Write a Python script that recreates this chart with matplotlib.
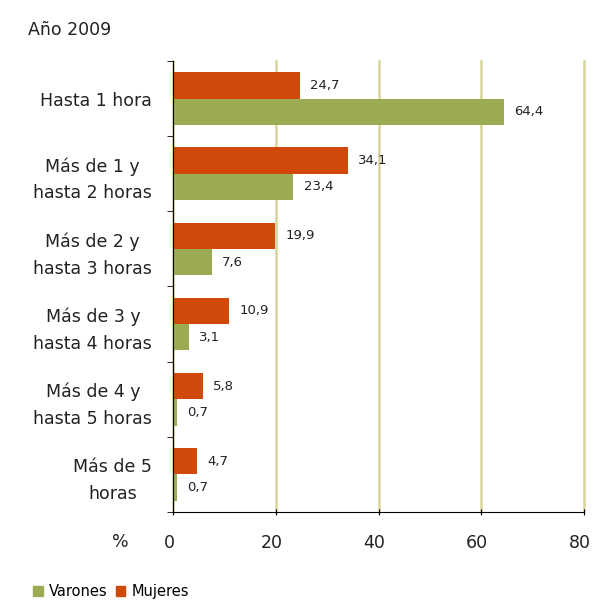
import matplotlib
matplotlib.use("Agg")
import matplotlib.pyplot as plt
import matplotlib.transforms as mtransforms
import numpy as np
from matplotlib.patches import Patch

plt.rcParams['font.family'] = ['DejaVu Sans']

categorias = ['Hasta 1 hora', 'Más de 1 y\nhasta 2 horas', 'Más de 2 y\nhasta 3 horas',
              'Más de 3 y\nhasta 4 horas', 'Más de 4 y\nhasta 5 horas', 'Más de 5\nhoras']
mujeres = [24.7, 34.1, 19.9, 10.9, 5.8, 4.7]
varones = [64.4, 23.4, 7.6, 3.1, 0.7, 0.7]
xticks = [0, 20, 40, 60, 80]

rojo = '#d0480a'
verde = '#9aab52'
texto = '#222222'

fig = plt.figure(figsize=(5.95, 6.02), dpi=100)
ax = fig.add_axes([0.2908, 0.1495, 0.6907, 0.7492])

y = np.arange(len(categorias))
h = 0.35
ax.barh(y - h / 2, mujeres, height=h, color=rojo, zorder=3)
ax.barh(y + h / 2, varones, height=h, color=verde, zorder=3)

for yi, v in zip(y, mujeres):
    ax.text(v + 2.0, yi - h / 2, f'{v:.1f}'.replace('.', ','), va='center', ha='left', fontsize=9.5, color=texto)
for yi, v in zip(y, varones):
    ax.text(v + 2.0, yi + h / 2, f'{v:.1f}'.replace('.', ','), va='center', ha='left', fontsize=9.5, color=texto)

ax.set_xlim(0, 80)
ax.set_ylim(len(categorias) - 0.5, -0.5)
ax.set_xticks(xticks)
ax.set_xticklabels([str(t) for t in xticks], fontsize=12.5, color=texto)
ax.set_yticks(y)
ax.set_yticklabels(categorias, fontsize=12.5, color=texto, linespacing=1.6,
                   ha='right', multialignment='center')
ax.tick_params(axis='y', length=0, pad=15)
ax.set_yticks(np.arange(len(categorias) + 1) - 0.5, minor=True)
ax.tick_params(axis='y', which='minor', length=4, direction='out')
ax.tick_params(axis='x', length=4, direction='inout', pad=14)

# etiquetas del eje x un poco a la izquierda, como en el original
offset = mtransforms.ScaledTranslation(-4 / 100, 0, fig.dpi_scale_trans)
for lab in ax.get_xticklabels():
    lab.set_transform(lab.get_transform() + offset)

ax.grid(axis='x', color='#d8d49a', linewidth=1.8, zorder=0)
for gl in ax.get_xgridlines():
    gl.set_clip_on(False)
for s in ['top', 'right']:
    ax.spines[s].set_visible(False)
ax.spines['left'].set_color('black')
ax.spines['bottom'].set_color('black')
ax.spines['left'].set_zorder(4)
ax.spines['bottom'].set_zorder(4)

fig.text(0.047, 0.95, 'Año 2009', fontsize=12.5, color=texto, va='center')
fig.text(0.188, 0.1, '%', fontsize=12.5, color=texto, va='center')

handles = [Patch(color=verde, label='Varones'), Patch(color=rojo, label='Mujeres')]
fig.legend(handles=handles, loc='center left', bbox_to_anchor=(0.056, 0.017), ncol=2,
           frameon=False, fontsize=10.5, handlelength=0.65, handleheight=0.65,
           handletextpad=0.4, columnspacing=0.6, borderpad=0, borderaxespad=0)

fig.savefig('out.png', dpi=100)
